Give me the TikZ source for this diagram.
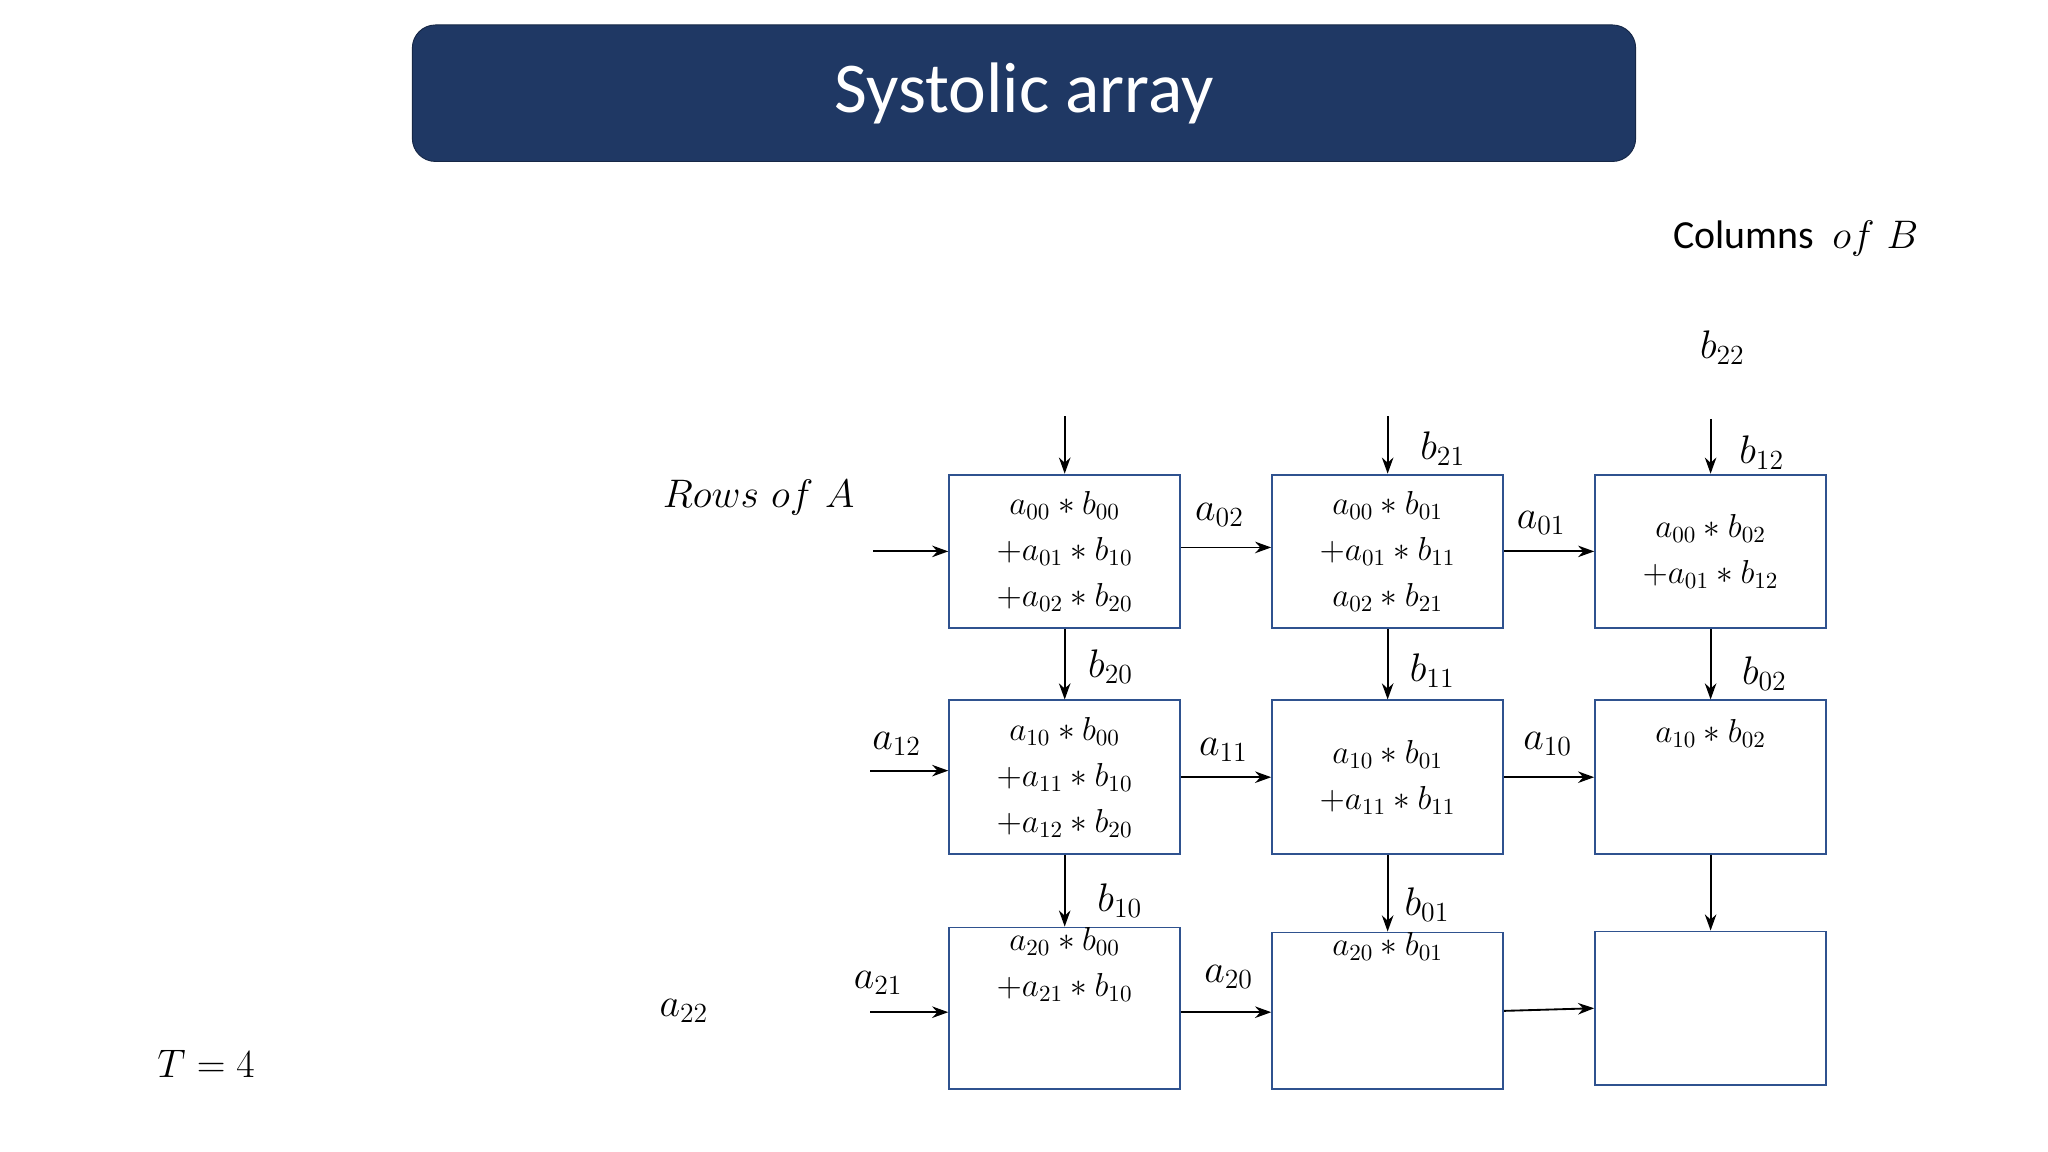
\documentclass[tikz,border=0pt]{standalone}
\usepackage{fontspec}
\newfontfamily\titlefont{Carlito}
\usetikzlibrary{arrows.meta}
\definecolor{navy}{RGB}{31,56,100}
\definecolor{cellline}{RGB}{47,82,143}
\tikzset{
  cell/.style={draw=cellline,thick,minimum width=3.52cm,minimum height=2.34cm,align=center,font=\Large,inner sep=0pt},
  flow/.style={-{Stealth[length=7pt,width=5pt]},thick},
  lbl/.style={font=\LARGE}
}
\begin{document}
\begin{tikzpicture}[x=0.02cm,y=-0.02cm]
\useasboundingbox (0,0) rectangle (1560,877.5);
%title%
\node[fill=navy,draw=navy!70!black,rounded corners=10pt,minimum width=18.64cm,minimum height=2.08cm,text=white,font=\titlefont\fontsize{31}{36}\selectfont] (title) at (780,71) {Systolic array};
%cells%
\node[cell] (c00) at (811,420) {$a_{00}*b_{00}$\\[2pt]$+a_{01}*b_{10}$\\[2pt]$+a_{02}*b_{20}$};
\node[cell] (c01) at (1057,420) {$a_{00}*b_{01}$\\[2pt]$+a_{01}*b_{11}$\\[2pt]$a_{02}*b_{21}$};
\node[cell] (c02) at (1303,420) {$a_{00}*b_{02}$\\[2pt]$+a_{01}*b_{12}$};
\node[cell] (c10) at (811,592) {$a_{10}*b_{00}$\\[2pt]$+a_{11}*b_{10}$\\[2pt]$+a_{12}*b_{20}$};
\node[cell] (c11) at (1057,592) {$a_{10}*b_{01}$\\[2pt]$+a_{11}*b_{11}$};
\node[cell] (c12) at (1303,592) {$a_{10}*b_{02}$\\[22pt]};
\node[cell] (c20) at (811,768) {$a_{20}*b_{00}$\\[2pt]$+a_{21}*b_{10}$\\[22pt]};
\node[cell] (c21) at (1057,770) {$a_{20}*b_{01}$\\[40pt]};
\node[cell] (c22) at (1303,768) {};
%feeds%
\coordinate (t0) at (811,317); \coordinate (t1) at (1057,317); \coordinate (t2) at (1303,319);
\coordinate (l0) at (665,420); \coordinate (l1) at (663,587); \coordinate (l2) at (663,771);
\draw[flow] (t0) -- (c00); \draw[flow] (t1) -- (c01); \draw[flow] (t2) -- (c02);
\draw[flow] (l0) -- (c00.west|-l0); \draw[flow] (l1) -- (c10.west|-l1); \draw[flow] (l2) -- (c20.west|-l2);
\draw[flow] (c00.south) -- (c10.north); \draw[flow] (c01.south) -- (c11.north); \draw[flow] (c02.south) -- (c12.north);
\draw[flow] (c10.south) -- (c20.north); \draw[flow] (c11.south) -- (c21.north); \draw[flow] (c12.south) -- (c22.north);
\draw[flow] (c00.east|-0,417) -- (c01.west|-0,417); \draw[flow] (c01.east) -- (c02.west);
\draw[flow] (c10.east) -- (c11.west); \draw[flow] (c11.east) -- (c12.west);
\draw[flow] (c20.east|-0,771) -- (c21.west|-0,771); \draw[flow] (c21.east|-0,770) -- (c22.west|-0,768);
%labels%
\node[lbl] (b21) at (1099,342) {$b_{21}$};
\node[lbl] (b12) at (1342,345) {$b_{12}$};
\node[lbl] (b22) at (1312,265) {$b_{22}$};
\node[lbl] (b20) at (846,508) {$b_{20}$};
\node[lbl] (b11) at (1091,511) {$b_{11}$};
\node[lbl] (b02) at (1344,513) {$b_{02}$};
\node[lbl] (b10) at (853,686) {$b_{10}$};
\node[lbl] (b01) at (1087,689) {$b_{01}$};
\node[lbl] (a02) at (929,392) {$a_{02}$};
\node[lbl] (a01) at (1174,398) {$a_{01}$};
\node[lbl] (a12) at (683,567) {$a_{12}$};
\node[lbl] (a11) at (932,571) {$a_{11}$};
\node[lbl] (a10) at (1179,567) {$a_{10}$};
\node[lbl] (a21) at (669,749) {$a_{21}$};
\node[lbl] (a20) at (936,744) {$a_{20}$};
\node[lbl] (a22) at (521,770) {$a_{22}$};
\node[lbl] (rows) at (578,379) {$Rows\ of\ A$};
\node[lbl] (cols) at (1368,182) {\titlefont\LARGE Columns\ \ \normalfont$of\ B$};
\node[lbl] (time) at (157,810) {$T=4$};
\end{tikzpicture}
\end{document}
